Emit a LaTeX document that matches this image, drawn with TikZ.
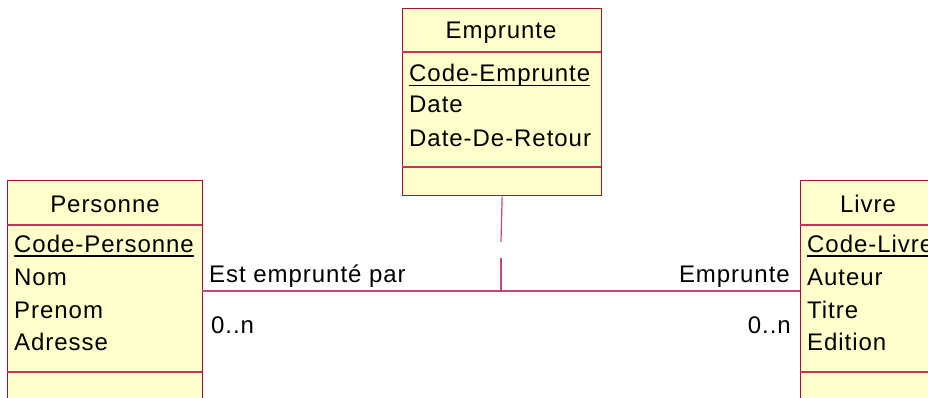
\documentclass[tikz,border=0pt]{standalone}
\usepackage{fontspec}
\setmainfont[LetterSpace=4]{Liberation Sans}
\definecolor{boxfill}{RGB}{255,255,204}
\definecolor{boxline}{RGB}{160,20,60}
\definecolor{divline}{RGB}{200,50,90}
\definecolor{conline}{RGB}{200,70,115}
\tikzset{
  umlbox/.style={draw=boxline, fill=boxfill, line width=1.3pt, anchor=north west, inner sep=0pt},
  divider/.style={draw=divline, line width=1.1pt},
  txt/.style={inner sep=0pt, anchor=base west, font=\fontsize{24}{28}\selectfont, text=black},
  ttl/.style={inner sep=0pt, anchor=base, font=\fontsize{24}{28}\selectfont, text=black},
  uline/.style={draw=black, line width=1.3pt},
  conn/.style={draw=conline, line width=1.2pt}
}
\begin{document}
\begin{tikzpicture}[x=1pt,y=-1pt]
\useasboundingbox (0,0) rectangle (928,398);
\clip (0,0) rectangle (928,398);
% Emprunte
\node[umlbox, minimum width=199pt, minimum height=187pt] (emp) at (402,8) {};
\draw[divider] (402,52) -- (601,52);
\draw[divider] (402,167) -- (601,167);
\node[ttl] (empt) at (501,39) {Emprunte};
\node[txt] (empa) at (409,82) {Code-Emprunte};
\draw[uline] ([yshift=-3.5pt]empa.base west) -- ([yshift=-3.5pt]empa.base east);
\node[txt] (empb) at (409,113) {Date};
\node[txt] (empc) at (409,147) {Date-De-Retour};
% Personne
\node[umlbox, minimum width=195pt, minimum height=240pt] (pers) at (7,180) {};
\draw[divider] (7,225) -- (202,225);
\draw[divider] (7,372) -- (202,372);
\node[ttl] (perst) at (105,212) {Personne};
\node[txt] (persa) at (14,252) {Code-Personne};
\draw[uline] ([yshift=-4pt]persa.base west) -- ([yshift=-4pt]persa.base east);
\node[txt] (persb) at (14,285) {Nom};
\node[txt] (persc) at (14,318) {Prenom};
\node[txt] (persd) at (14,350) {Adresse};
% Livre
\node[umlbox, minimum width=136pt, minimum height=240pt] (liv) at (800,180) {};
\draw[divider] (800,225) -- (936,225);
\draw[divider] (800,372) -- (936,372);
\node[ttl] (livt) at (868,212) {Livre};
\node[txt] (liva) at (807,252) {Code-Livre};
\draw[uline] ([yshift=-4pt]liva.base west) -- ([yshift=-4pt]liva.base east);
\node[txt] (livb) at (807,285) {Auteur};
\node[txt] (livc) at (807,318) {Titre};
\node[txt] (livd) at (807,350) {Edition};
% connectors
\coordinate (pl) at (202,291);
\coordinate (lr) at (800,291);
\coordinate (mid) at (501,291);
\coordinate (g1) at (501,242);
\coordinate (g2) at (501,258);
\draw[conn] (pl) -- (lr);
\draw[conn] (emp.south) -- (g1);
\draw[conn] (g2) -- (mid);
\node[txt] (l1) at (209,282) {Est emprunté par};
\node[txt, anchor=base east] (l2) at (790,282) {Emprunte};
\node[txt] (m1) at (211,333) {0..n};
\node[txt, anchor=base east] (m2) at (791,333) {0..n};
\end{tikzpicture}
\end{document}
